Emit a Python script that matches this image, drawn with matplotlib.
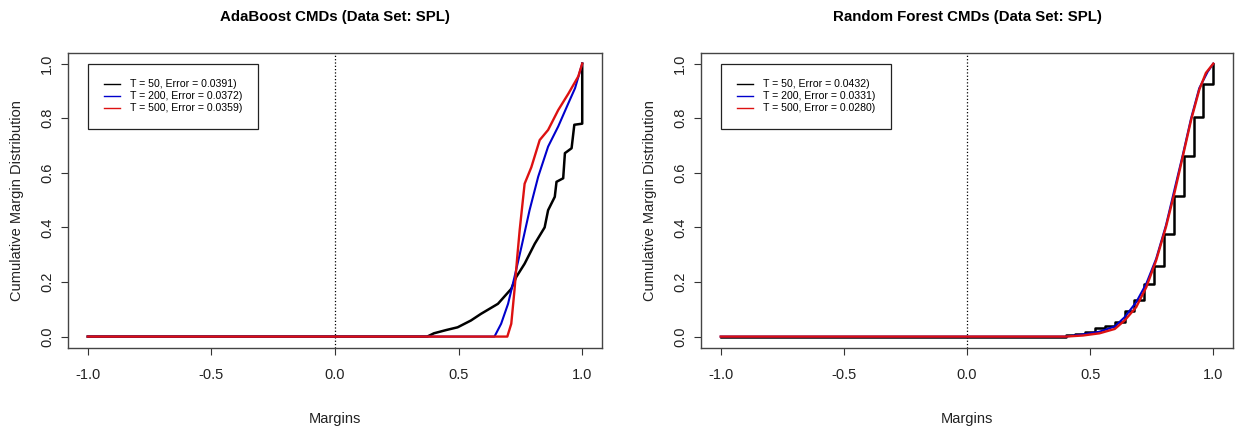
import matplotlib
matplotlib.use("Agg")
import matplotlib.pyplot as plt
import numpy as np

plt.rcParams['font.family'] = ['Liberation Sans Narrow', 'Liberation Sans', 'DejaVu Sans']

# region Source Data
# AdaBoost (left panel), margins vs cumulative distribution
ada_50_m = [-1.0, 0.373, 0.40, 0.45, 0.496, 0.55, 0.59, 0.659, 0.713, 0.733, 0.767,
            0.808, 0.848, 0.862, 0.889, 0.896, 0.923, 0.93, 0.957, 0.968, 1.0, 1.0]
ada_50_c = [0.0, 0.0, 0.012, 0.024, 0.034, 0.059, 0.083, 0.12, 0.175, 0.218, 0.267,
            0.34, 0.40, 0.463, 0.512, 0.567, 0.58, 0.672, 0.69, 0.776, 0.78, 1.0]

ada_200_m = [-1.0, 0.645, 0.672, 0.70, 0.726, 0.754, 0.787, 0.822, 0.862, 0.903, 0.944, 0.971, 1.0]
ada_200_c = [0.0, 0.0, 0.047, 0.12, 0.218, 0.328, 0.463, 0.586, 0.696, 0.77, 0.855, 0.91, 1.0]

ada_500_m = [-1.0, 0.697, 0.713, 0.726, 0.737, 0.747, 0.767, 0.794, 0.828, 0.862, 0.903,
             0.944, 0.984, 1.0]
ada_500_c = [0.0, 0.0, 0.047, 0.17, 0.29, 0.39, 0.56, 0.62, 0.72, 0.757, 0.83,
             0.89, 0.953, 1.0]

# Random Forest (right panel)
rf_50_m = [-1.0, 0.40, 0.44, 0.48, 0.52, 0.56, 0.60, 0.64, 0.68, 0.72, 0.76,
           0.80, 0.84, 0.88, 0.92, 0.96, 1.0]
rf_50_c = [0.0, 0.005, 0.01, 0.018, 0.031, 0.04, 0.053, 0.092, 0.135, 0.194, 0.257,
           0.374, 0.515, 0.662, 0.803, 0.925, 1.0]

rf_200_m = [-1.0, 0.40, 0.471, 0.538, 0.60, 0.64, 0.687, 0.728, 0.768, 0.808, 0.842,
            0.876, 0.91, 0.943, 0.977, 1.0]
rf_200_c = [0.0, 0.0, 0.008, 0.018, 0.037, 0.071, 0.126, 0.194, 0.285, 0.408, 0.537,
            0.665, 0.80, 0.91, 0.97, 1.0]

rf_500_m = [-1.0, 0.40, 0.471, 0.538, 0.60, 0.64, 0.687, 0.728, 0.768, 0.808, 0.842,
            0.876, 0.91, 0.943, 0.97, 1.0]
rf_500_c = [0.0, 0.0, 0.004, 0.012, 0.028, 0.059, 0.108, 0.181, 0.279, 0.402, 0.525,
            0.659, 0.794, 0.904, 0.966, 1.0]

ada_labels = ["T = 50, Error = 0.0391)", "T = 200, Error = 0.0372)", "T = 500, Error = 0.0359)"]
rf_labels = ["T = 50, Error = 0.0432)", "T = 200, Error = 0.0331)", "T = 500, Error = 0.0280)"]
# endregion

fig = plt.figure(figsize=(12.43, 4.32), dpi=100)
ax1 = fig.add_axes([68 / 1243, 1 - 347.5 / 432, 534 / 1243, 294.8 / 432])
ax2 = fig.add_axes([701 / 1243, 1 - 347.5 / 432, 532 / 1243, 294.8 / 432])


def style_axes(ax, title, labels):
    ax.axvline(0, color="black", linestyle=":", linewidth=0.9, zorder=1)
    ax.set_xlim(-1.08, 1.08)
    ax.set_ylim(-0.04, 1.04)
    ax.set_xticks([-1.0, -0.5, 0.0, 0.5, 1.0])
    ax.set_xticklabels(["-1.0", "-0.5", "0.0", "0.5", "1.0"])
    ax.set_yticks([0.0, 0.2, 0.4, 0.6, 0.8, 1.0])
    ax.set_yticklabels(["0.0", "0.2", "0.4", "0.6", "0.8", "1.0"])
    ax.tick_params(axis="both", direction="out", length=5, width=0.8, colors="#333333",
                   labelsize=10.5, labelcolor="#222222")
    ax.tick_params(axis="x", pad=10)
    ax.tick_params(axis="y", pad=5, labelrotation=90)
    for lab in ax.get_yticklabels():
        lab.set_va("center")
    for s in ax.spines.values():
        s.set_color("#444444")
        s.set_linewidth(1.0)
    ax.set_title(title, fontsize=10.8, fontweight="bold", pad=23)
    ax.set_xlabel("Margins", fontsize=10.5, va="center", color="#222222")
    ax.set_ylabel("Cumulative Margin Distribution", fontsize=10.5, va="center", color="#222222")
    ax.xaxis.set_label_coords(0.5, -0.242)
    ax.yaxis.set_label_coords(-0.095, 0.5)
    leg = ax.legend(labels, loc="upper left", bbox_to_anchor=(0.038, 0.962),
                    borderaxespad=0, fontsize=7.6, fancybox=False, framealpha=1,
                    edgecolor="#222222", handlelength=1.6, handletextpad=0.9,
                    borderpad=1.45, labelspacing=0.2)
    leg.get_frame().set_linewidth(0.9)
    for h in leg.get_lines():
        h.set_linewidth(1.0)


# region AdaBoost
ax1.plot(ada_50_m, ada_50_c, color="black", linewidth=1.8)
ax1.plot(ada_200_m, ada_200_c, color="#0000cc", linewidth=1.5)
ax1.plot(ada_500_m, ada_500_c, color="#dd1111", linewidth=1.7)
style_axes(ax1, "AdaBoost CMDs (Data Set: SPL)", ada_labels)
# endregion

# region Random Forest
ax2.plot(rf_50_m, rf_50_c, color="black", linewidth=1.8, drawstyle="steps-post")
ax2.plot(rf_200_m, rf_200_c, color="#0000cc", linewidth=1.5)
ax2.plot(rf_500_m, rf_500_c, color="#dd1111", linewidth=1.7)
style_axes(ax2, "Random Forest CMDs (Data Set: SPL)", rf_labels)
# endregion

plt.savefig("out.png", dpi=100)
